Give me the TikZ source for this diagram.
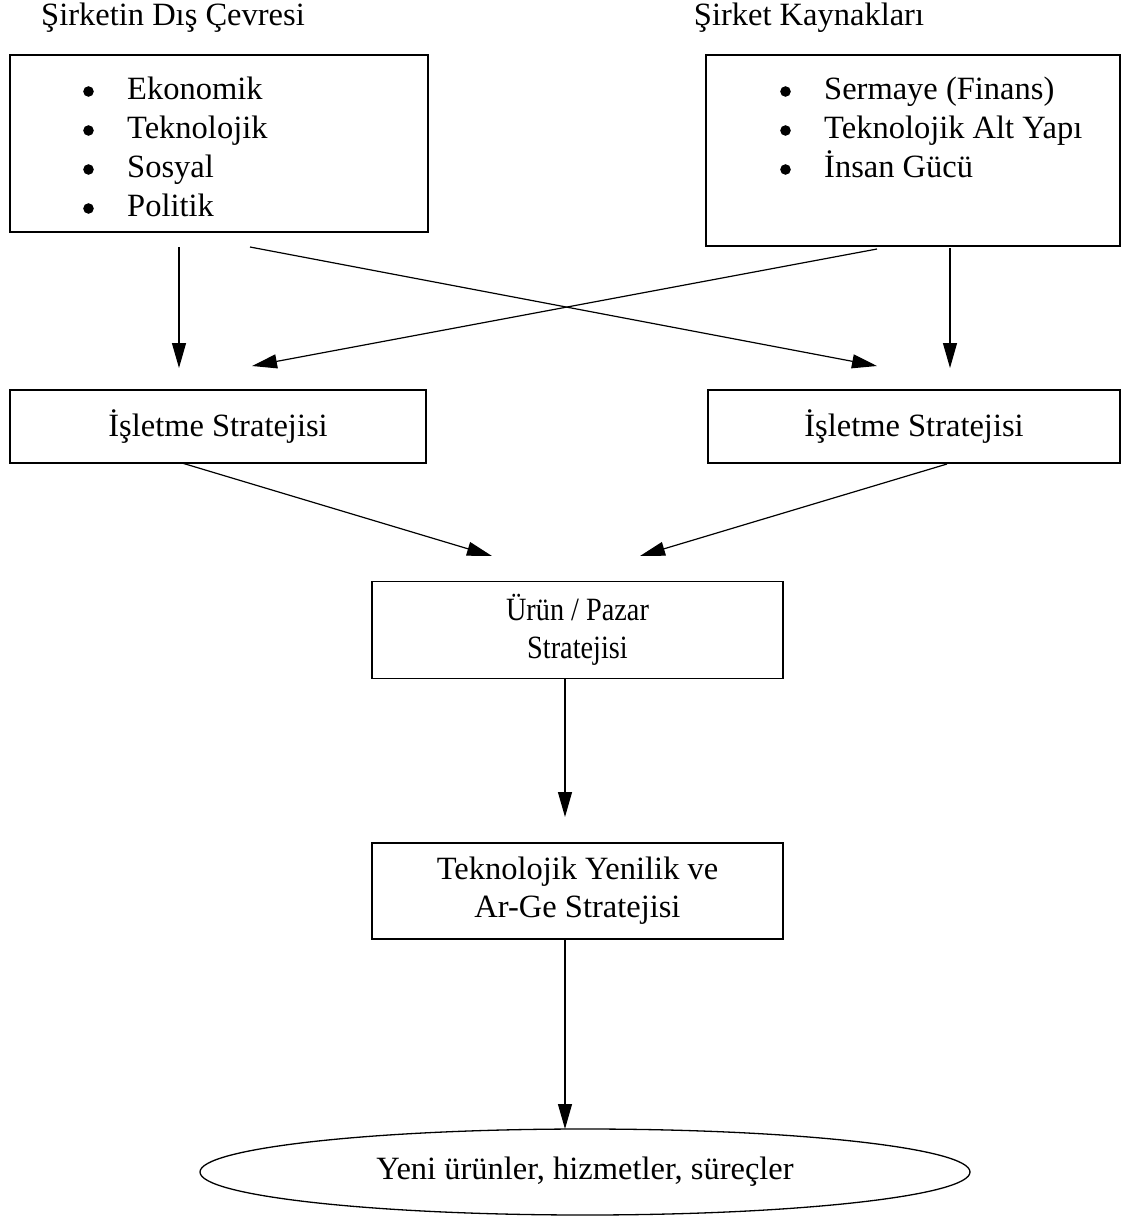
\documentclass[tikz,border=0pt]{standalone}
\usepackage{fontspec}
\setmainfont{Liberation Serif}
\newfontfamily\narrowfont[FakeStretch=0.87]{Liberation Serif}
\usetikzlibrary{arrows.meta,shapes.geometric}
\newcommand\mybul{\makebox[44pt][l]{\tikz[baseline=-8pt]\fill (5.3pt,0) circle (5.3pt);}}
\begin{document}
\begin{tikzpicture}[x=1pt,y=-1pt,
  box/.style={draw,line width=1.3pt,rectangle,inner sep=0pt},
  txt/.style={font=\fontsize{32.5}{38}\selectfont,align=center,inner sep=0pt},
  arr/.style={line width=1.2pt,-{Triangle[length=25pt,width=14pt]}}]
\useasboundingbox (0,0) rectangle (1133,1223);
% titles
\node[txt] (t1) at (173,18) {Şirketin Dış Çevresi};
\node[txt] (t2) at (809,18) {Şirket Kaynakları};
% top boxes
\node[box,minimum width=418pt,minimum height=177pt] (env) at (219,143.5) {};
\node[txt,font=\fontsize{32.5}{39}\selectfont,anchor=north west,align=left] (envlist) at (83,72)
 {\begin{tabular}{@{}l@{}l@{}}\mybul & Ekonomik\\ \mybul & Teknolojik\\ \mybul & Sosyal\\ \mybul & Politik\end{tabular}};
\node[box,minimum width=414pt,minimum height=191pt] (res) at (913,150.5) {};
\node[txt,font=\fontsize{32.5}{39}\selectfont,anchor=north west,align=left] (reslist) at (780,72)
 {\begin{tabular}{@{}l@{}l@{}}\mybul & Sermaye (Finans)\\ \mybul & Teknolojik Alt Yapı\\ \mybul & İnsan Gücü\end{tabular}};
% middle boxes
\node[box,minimum width=416pt,minimum height=73pt,txt] (isl) at (218,426.5) {İşletme Stratejisi};
\node[box,minimum width=412pt,minimum height=73pt,txt] (isr) at (914,426.5) {İşletme Stratejisi};
\node[box,minimum width=411pt,minimum height=97pt,txt,font=\narrowfont\fontsize{32.5}{38}\selectfont] (urun) at (577.5,630) {Ürün / Pazar\\Stratejisi};
\node[box,minimum width=411pt,minimum height=96pt,txt] (tek) at (577.5,891) {Teknolojik Yenilik ve\\Ar-Ge Stratejisi};
\node[draw,line width=1.3pt,ellipse,minimum width=770pt,minimum height=86pt,txt] (yeni) at (585,1172) {Yeni ürünler, hizmetler, süreçler};
% arrow coordinates
\coordinate (a1s) at (179,247); \coordinate (a1e) at (179,368);
\coordinate (a2s) at (250,247); \coordinate (a2e) at (877,366);
\coordinate (a3s) at (877,249); \coordinate (a3e) at (252,366);
\coordinate (a4s) at (950,248); \coordinate (a4e) at (950,368);
\coordinate (a5s) at (182,463); \coordinate (a5e) at (492,556);
\coordinate (a6s) at (947,464); \coordinate (a6e) at (640,556);
\coordinate (a7s) at (565,678); \coordinate (a7e) at (565,817);
\coordinate (a8s) at (565,939); \coordinate (a8e) at (565,1129);
\draw[arr] (a1s) -- (a1e);
\draw[arr] (a2s) -- (a2e);
\draw[arr] (a3s) -- (a3e);
\draw[arr] (a4s) -- (a4e);
\draw[arr] (a5s) -- (a5e);
\draw[arr] (a6s) -- (a6e);
\draw[arr] (a7s) -- (a7e);
\draw[arr] (a8s) -- (a8e);
\end{tikzpicture}
\end{document}
